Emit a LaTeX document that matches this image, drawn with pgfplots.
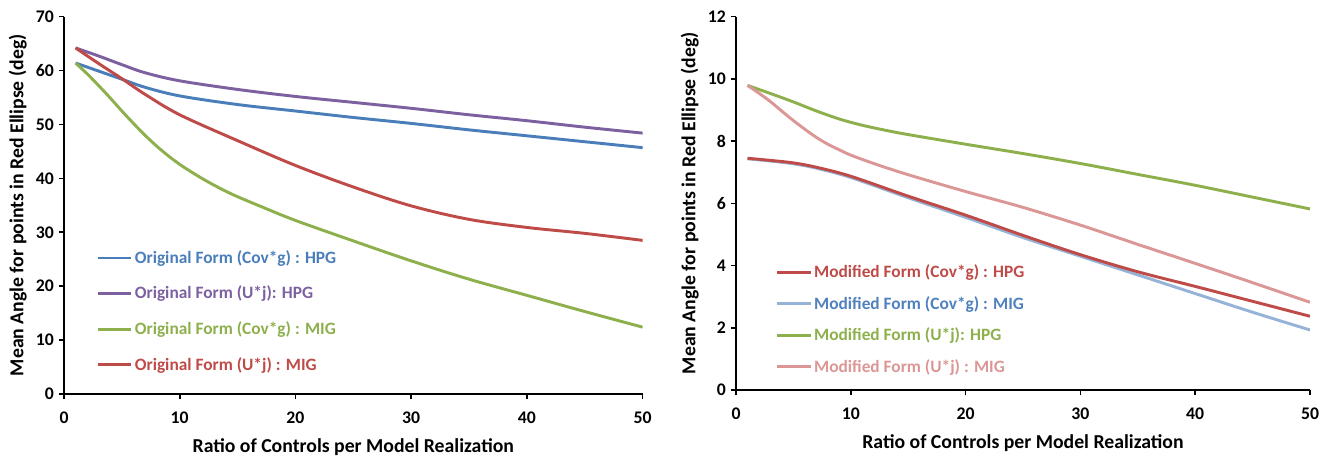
\documentclass[border=0pt]{standalone}
\usepackage{pgfplots}
\pgfplotsset{compat=1.18}
\usepackage{fontspec}
\setmainfont{Carlito}
\definecolor{cblue}{HTML}{4A7EBB}
\definecolor{cpurple}{HTML}{7D60A0}
\definecolor{cgreen}{HTML}{8DB04D}
\definecolor{cred}{HTML}{BE4B48}
\definecolor{clblue}{HTML}{95B3D7}
\definecolor{clbluetext}{HTML}{4F81BD}
\definecolor{cpink}{HTML}{DB9795}
\pgfplotsset{
  mystyle/.style={
    scale only axis,
    axis x line=bottom, axis y line=left,
    axis line style={-, line width=2pt, black},
    tick style={line width=1.2pt, black},
    tick align=outside,
    major tick length=4pt,
    xmin=0, xmax=50, xtick={0,10,...,50},
    font=\fontsize{13}{15}\selectfont\bfseries,
    ticklabel style={font=\fontsize{13.3}{15}\selectfont\bfseries},
    xticklabel style={yshift=-6pt},
    /pgf/number format/assume math mode=true,
    xlabel={Ratio of Controls per Model Realization},
    ylabel={Mean Angle for points in Red Ellipse (deg)},
    label style={font=\fontsize{14.8}{17}\selectfont\bfseries},
    xlabel style={yshift=-4.5pt},
    legend style={draw=none, fill=none, anchor=north west,
      font=\fontsize{13}{15}\selectfont\bfseries,
      nodes={inner xsep=1.5pt}},
    legend cell align=left,
    legend image code/.code={\draw[#1, line width=2.2pt] (0pt,0pt) -- (25pt,0pt);},
    every axis plot/.append style={line width=2.2pt, smooth, tension=0.55, no marks},
  }
}
\begin{document}
\begin{tikzpicture}
\useasboundingbox (0,0) rectangle (998.25pt,-342.75pt);
\begin{axis}[mystyle,
  at={(48pt,-295.5pt)}, anchor=south west,
  width=434pt, height=283pt,
  ymin=0, ymax=70, ytick={0,10,...,70},
  legend style={at={(0.049,0.395)}, row sep=11.5pt},
]
\addplot[cblue] coordinates {(1,61.4)(3,59.9)(5,58.4)(7,56.9)(10,55.3)(15,53.7)(20,52.5)(25,51.3)(30,50.2)(35,49.0)(40,47.9)(45,46.8)(50,45.7)};
\addlegendentry{\textcolor{cblue}{Original Form (Cov*g) : HPG}}
\addplot[cpurple] coordinates {(1,64.2)(3,62.7)(5,61.1)(7,59.6)(10,58.1)(15,56.5)(20,55.2)(25,54.1)(30,53.0)(35,51.8)(40,50.7)(45,49.5)(50,48.4)};
\addlegendentry{\textcolor{cpurple}{Original Form (U*j): HPG}}
\addplot[cgreen] coordinates {(1,61.4)(2,59.4)(3,57.2)(4,54.9)(5,52.5)(6,50.2)(7,48.0)(8,46.0)(9,44.2)(10,42.6)(11,41.2)(12,39.9)(13,38.7)(14,37.6)(15,36.6)(17,34.8)(20,32.2)(25,28.4)(30,24.7)(35,21.3)(40,18.3)(45,15.3)(50,12.4)};
\addlegendentry{\textcolor{cgreen}{Original Form (Cov*g) : MIG}}
\addplot[cred] coordinates {(1,64.2)(3,61.3)(5,58.5)(7,55.6)(10,51.8)(15,47.0)(20,42.4)(25,38.4)(30,34.9)(35,32.4)(40,30.9)(45,29.8)(50,28.5)};
\addlegendentry{\textcolor{cred}{Original Form (U*j) : MIG}}
\end{axis}
\begin{axis}[mystyle,
  at={(552pt,-292.5pt)}, anchor=south west,
  width=430.5pt, height=280pt,
  ymin=0, ymax=12, ytick={0,2,...,12},
  legend style={at={(0.062,0.35)}, row sep=8.5pt},
]
\addplot[clblue, forget plot] coordinates {(1,7.43)(3,7.36)(5,7.27)(7,7.13)(10,6.83)(15,6.18)(20,5.55)(25,4.9)(30,4.3)(35,3.7)(40,3.1)(45,2.5)(50,1.93)};
\addplot[cred] coordinates {(1,7.45)(3,7.38)(5,7.3)(7,7.16)(10,6.87)(15,6.23)(20,5.62)(25,4.97)(30,4.35)(35,3.8)(40,3.33)(45,2.85)(50,2.37)};
\addlegendentry{\textcolor{cred}{Modified Form (Cov*g) : HPG}}
\addlegendimage{clblue}
\addlegendentry{\textcolor{clbluetext}{Modified Form (Cov*g) : MIG}}
\addplot[cgreen] coordinates {(1,9.79)(3,9.53)(5,9.26)(7,8.97)(9,8.71)(11,8.51)(13,8.35)(15,8.21)(20,7.9)(25,7.6)(30,7.28)(35,6.93)(40,6.58)(45,6.2)(50,5.82)};
\addlegendentry{\textcolor{cgreen}{Modified Form (U*j): HPG}}
\addplot[cpink] coordinates {(1,9.79)(2,9.54)(3,9.27)(4,8.96)(5,8.66)(6,8.38)(7,8.12)(8,7.9)(9,7.72)(10,7.55)(12,7.28)(15,6.92)(20,6.38)(25,5.87)(30,5.3)(35,4.68)(40,4.07)(45,3.45)(50,2.82)};
\addlegendentry{\textcolor{cpink}{Modified Form (U*j) : MIG}}
\end{axis}
\end{tikzpicture}
\end{document}
